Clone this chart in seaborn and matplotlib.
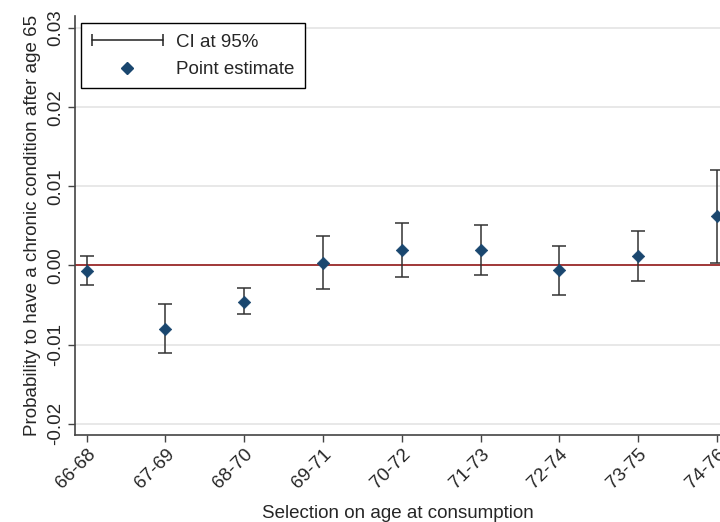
import matplotlib
matplotlib.use("Agg")
import matplotlib.pyplot as plt
import seaborn as sns
import pandas as pd
from matplotlib.lines import Line2D
from matplotlib.legend_handler import HandlerBase

# valores
grupos = ["66-68", "67-69", "68-70", "69-71", "70-72", "71-73", "72-74", "73-75", "74-76"]
estimado = [-0.0007, -0.0080, -0.0046, 0.0003, 0.0019, 0.0019, -0.0006, 0.0012, 0.0062]
ci_alto = [0.0012, -0.0049, -0.0029, 0.0037, 0.0054, 0.0051, 0.0025, 0.0044, 0.0121]
ci_bajo = [-0.0025, -0.0110, -0.0061, -0.0030, -0.0015, -0.0012, -0.0037, -0.0020, 0.0003]

df = pd.DataFrame({"grupo": grupos, "est": estimado, "hi": ci_alto, "lo": ci_bajo})
df["pos"] = range(len(df))


# manejador para dibujar el IC horizontal en la leyenda
class HandlerCI(HandlerBase):
    def create_artists(self, legend, orig, xd, yd, w, h, fontsize, trans):
        y = h / 2 - yd
        linea = Line2D([-xd, -xd + w], [y, y], color="#222222", lw=1.1,
                       marker="|", markersize=9, markeredgewidth=1.1, transform=trans)
        return [linea]


sns.set_theme(style="whitegrid")
plt.rcParams["font.family"] = ["Liberation Sans", "DejaVu Sans"]

fig = plt.figure(figsize=(7.2, 5.22), dpi=100)
ax = fig.add_axes([0.104, 0.167, 0.896, 0.802])

ax.axhline(0, color="#9b2a2a", linewidth=1.3, zorder=1)

# intervalos de confianza
ax.errorbar(df["pos"], (df["hi"] + df["lo"]) / 2,
            yerr=(df["hi"] - df["lo"]) / 2, fmt="none",
            ecolor="#333333", elinewidth=1.1, capsize=5, capthick=1.1, zorder=2)

# estimaciones puntuales
sns.scatterplot(data=df, x="pos", y="est", marker="D", s=40, color="#1a476f",
                edgecolor="#1a476f", zorder=3, ax=ax, legend=False)

ax.set_xlim(-0.15, 8.04)
ax.set_ylim(-0.0214, 0.0315)
ax.set_xticks(df["pos"])
ax.set_xticklabels(grupos, rotation=45, ha="right", rotation_mode="anchor", fontsize=13.5)
ax.set_yticks([-0.02, -0.01, 0.0, 0.01, 0.02, 0.03])
ax.set_yticklabels(["-0.02", "-0.01", "0.00", "0.01", "0.02", "0.03"],
                   rotation=90, va="center", fontsize=13.5)

ax.grid(axis="x", visible=False)
ax.grid(axis="y", color="#e4e4e4", linewidth=1.2)
for s in ["top", "right"]:
    ax.spines[s].set_visible(False)
for s in ["left", "bottom"]:
    ax.spines[s].set_color("#444444")
    ax.spines[s].set_linewidth(1.2)
ax.tick_params(axis="both", length=5, width=1, color="#444444", bottom=True, left=True, pad=3)

ax.set_xlabel("Selection on age at consumption", fontsize=13.5, labelpad=9)
ax.set_ylabel("Probability to have a chronic condition after age 65", fontsize=13.5, labelpad=4)

h_ci = Line2D([], [])
h_pt = Line2D([], [], linestyle="none", marker="D", markersize=6,
              color="#1a476f", markeredgecolor="#1a476f")
leg = ax.legend([h_ci, h_pt], ["CI at 95%", "Point estimate"],
                handler_map={h_ci: HandlerCI()},
                loc="upper left", fontsize=13.5, frameon=True, fancybox=False,
                edgecolor="black", framealpha=1, borderpad=0.55, labelspacing=0.55,
                handlelength=3.8, handletextpad=0.7, borderaxespad=0,
                bbox_to_anchor=(0.01, 0.983))
leg.get_frame().set_linewidth(1.0)

fig.savefig("out.png", dpi=100)
